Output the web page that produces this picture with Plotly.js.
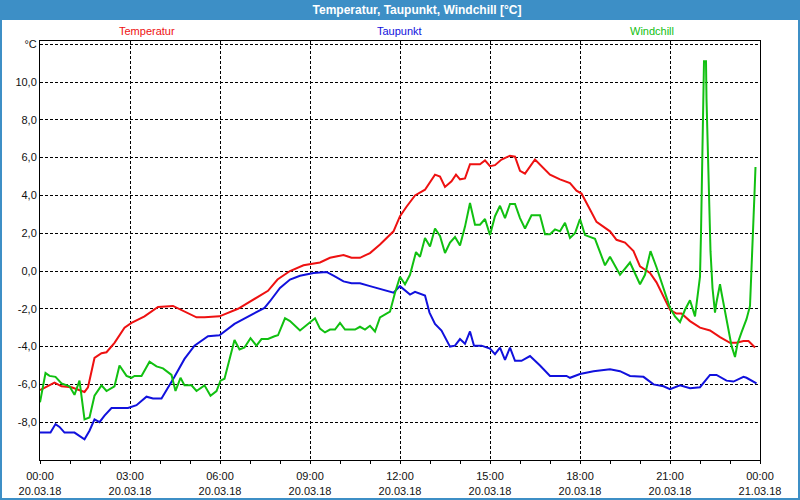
<!DOCTYPE html>
<html>
<head>
<meta charset="utf-8">
<script src="https://cdn.plot.ly/plotly-3.0.1.min.js"></script>
<style>
  html, body { margin: 0; padding: 0; background: #ffffff; }
  #chart { width: 800px; height: 500px; }
</style>
</head>
<body>
<div id="chart"></div>
<script>
// minutes since 20.03.18 00:00 and degrees C
const tempTimes = [0, 29, 43, 63, 89, 96, 109, 123, 133, 149, 169, 183, 209, 236, 266, 289, 313, 329, 359, 396,
  429, 456, 475, 500, 527, 560, 580, 607, 623, 640, 660, 680, 707, 720, 733, 750, 770, 790, 800, 810,
  823, 832, 840, 850, 860, 880, 890, 900, 910, 923, 940, 950, 960, 970, 990, 1007, 1020, 1040, 1060, 1073,
  1083, 1100, 1113, 1140, 1153, 1170, 1187, 1200, 1220, 1233, 1247, 1260, 1273, 1283, 1300, 1320, 1340, 1360, 1380, 1393,
  1407, 1417, 1430];
const tempValues = [-6.3, -5.9, -6.1, -6.15, -6.4, -6.15, -4.6, -4.35, -4.3, -3.8, -3.0, -2.75, -2.4, -1.9, -1.85, -2.15, -2.45, -2.45, -2.4, -2.0,
  -1.5, -1.05, -0.45, 0.0, 0.3, 0.45, 0.7, 0.85, 0.7, 0.7, 0.95, 1.4, 2.1, 2.9, 3.4, 4.0, 4.3, 5.1, 5.0, 4.45,
  4.75, 5.1, 4.85, 4.9, 5.65, 5.65, 5.85, 5.55, 5.6, 5.9, 6.1, 6.05, 5.3, 5.15, 5.9, 5.45, 5.1, 4.85, 4.65, 4.25,
  4.1, 3.25, 2.6, 2.1, 1.65, 1.5, 1.05, 0.25, -0.1, -0.6, -1.35, -2.05, -2.25, -2.25, -2.65, -3.0, -3.15, -3.5, -3.8, -3.8,
  -3.7, -3.7, -4.05];

const dewTimes = [0, 21, 31, 39, 49, 69, 89, 99, 109, 119, 129, 143, 176, 193, 213, 226, 243, 256, 269, 289,
  309, 336, 359, 389, 423, 449, 460, 480, 500, 520, 547, 573, 587, 607, 623, 640, 660, 680, 707, 720,
  740, 750, 770, 779, 790, 803, 820, 830, 840, 850, 860, 868, 883, 900, 910, 920, 930, 940, 950, 963,
  980, 1000, 1020, 1053, 1060, 1080, 1107, 1140, 1160, 1180, 1207, 1227, 1247, 1260, 1280, 1300, 1320, 1340, 1353, 1373,
  1387, 1407, 1413, 1433];
const dewValues = [-8.55, -8.55, -8.1, -8.25, -8.55, -8.55, -8.9, -8.45, -7.85, -8.0, -7.65, -7.25, -7.25, -7.1, -6.65, -6.75, -6.75, -6.2, -5.6, -4.65,
  -3.95, -3.45, -3.4, -2.8, -2.3, -1.95, -1.6, -0.9, -0.45, -0.25, -0.1, -0.05, -0.25, -0.55, -0.65, -0.65, -0.8, -0.95, -1.15, -0.8,
  -1.25, -1.1, -1.3, -2.2, -2.8, -3.15, -4.0, -3.95, -3.6, -3.85, -3.2, -3.95, -3.95, -4.1, -4.4, -4.05, -4.7, -4.05, -4.75, -4.75,
  -4.5, -5.0, -5.55, -5.55, -5.65, -5.45, -5.3, -5.2, -5.3, -5.55, -5.6, -6.0, -6.1, -6.25, -6.05, -6.2, -6.15, -5.5, -5.5, -5.8,
  -5.85, -5.6, -5.65, -5.95];

const chillTimes = [0, 11, 19, 31, 43, 59, 69, 79, 89, 99, 109, 123, 133, 149, 159, 173, 183, 189, 203, 219,
  233, 246, 263, 271, 281, 289, 303, 313, 329, 341, 353, 361, 369, 379, 389, 399, 409, 421, 433, 443,
  456, 469, 476, 490, 500, 520, 533, 550, 560, 570, 580, 590, 600, 610, 630, 640, 650, 660, 670, 680,
  693, 700, 710, 720, 730, 740, 752, 760, 770, 780, 790, 800, 810, 820, 830, 840, 850, 860, 870, 880,
  890, 900, 910, 920, 930, 940, 950, 960, 970, 983, 1000, 1010, 1020, 1030, 1040, 1050, 1060, 1070, 1080, 1090,
  1110, 1120, 1130, 1140, 1160, 1180, 1200, 1210, 1221, 1233, 1247, 1260, 1270, 1280, 1290, 1300, 1310, 1317, 1320, 1322,
  1324, 1325, 1328, 1332, 1333, 1335, 1338, 1340, 1341, 1345, 1350, 1353, 1360, 1363, 1370, 1377, 1383, 1390, 1395, 1403,
  1413, 1420, 1423, 1425, 1427, 1429, 1431];
const chillValues = [-6.95, -5.4, -5.55, -5.6, -5.95, -6.1, -6.55, -5.8, -7.85, -7.75, -6.6, -6.05, -6.35, -6.1, -5.0, -5.55, -5.65, -5.55, -5.55, -4.8,
  -5.05, -5.15, -5.5, -6.35, -5.65, -6.05, -6.05, -6.35, -6.05, -6.6, -6.35, -5.8, -5.7, -4.65, -3.65, -4.15, -4.05, -3.55, -3.95, -3.6,
  -3.6, -3.45, -3.4, -2.5, -2.65, -3.15, -2.85, -2.5, -3.05, -3.25, -3.1, -3.1, -2.75, -3.1, -3.1, -2.95, -3.1, -2.9, -3.2, -2.45,
  -2.25, -2.15, -1.15, -0.3, -0.7, -0.2, 1.0, 0.75, 1.75, 1.3, 2.25, 1.85, 0.95, 1.5, 1.8, 1.35, 2.35, 3.6, 2.45, 2.45,
  2.75, 1.9, 2.9, 3.45, 2.8, 3.55, 3.55, 2.8, 2.25, 2.95, 2.95, 1.95, 1.95, 2.2, 2.1, 2.55, 1.75, 2.0, 2.75, 1.9,
  1.7, 0.95, 0.3, 0.75, -0.2, 0.45, -0.7, -0.2, 1.05, 0.2, -0.9, -1.95, -2.4, -2.7, -2.05, -1.55, -2.4, -1.1, -0.3, 2.0,
  4.3, 6.6, 11.1, 11.1, 9.1, 7.1, 5.1, 3.05, 1.05, -0.9, -2.2, -1.65, -0.7, -1.15, -2.2, -3.25, -3.95, -4.55, -3.85, -3.25,
  -2.55, -1.85, -0.1, 1.15, 2.6, 4.1, 5.5];

const seriesNames = ['Temperatur', 'Taupunkt', 'Windchill'];
const seriesColors = ['#ee1111', '#1111dd', '#11c011'];

const tickMinutes = [0, 180, 360, 540, 720, 900, 1080, 1260, 1440];
const tickTimes = ['00:00', '03:00', '06:00', '09:00', '12:00', '15:00', '18:00', '21:00', '00:00'];
const tickDates = ['20.03.18', '20.03.18', '20.03.18', '20.03.18', '20.03.18', '20.03.18', '20.03.18', '20.03.18', '21.03.18'];

const yTicks = [-8, -6, -4, -2, 0, 2, 4, 6, 8, 10, 12];
const yTickText = ['-8,0', '-6,0', '-4,0', '-2,0', '0,0', '2,0', '4,0', '6,0', '8,0', '10,0', '°C'];

const W = 800, H = 500;
const margin = {l: 40, r: 40, t: 41, b: 40, pad: 0};
const barBlue = '#3d8fc6';
const font = 'Liberation Sans, Arial, sans-serif';

// pixel position -> paper coordinate
function px2x(px) { return (px - margin.l) / (W - margin.l - margin.r); }
function px2y(py) { return (H - margin.b - py) / (H - margin.t - margin.b); }

const traces = [
  [tempTimes, tempValues],
  [dewTimes, dewValues],
  [chillTimes, chillValues]
].map(function(s, i) {
  return {
    x: s[0],
    y: s[1],
    name: seriesNames[i],
    type: 'scatter',
    mode: 'lines',
    line: {color: seriesColors[i], width: 2},
    hoverinfo: 'skip'
  };
});

const labelCenters = [147, 399, 652];
const annotations = seriesNames.map(function(n, i) {
  return {
    text: n,
    xref: 'paper', yref: 'paper',
    x: px2x(labelCenters[i]), y: px2y(31),
    xanchor: 'center', yanchor: 'middle',
    showarrow: false,
    font: {family: font, size: 11, color: seriesColors[i]}
  };
});

const layout = {
  width: W,
  height: H,
  margin: margin,
  paper_bgcolor: '#ffffff',
  plot_bgcolor: '#ffffff',
  showlegend: false,
  title: {
    text: '<b>Temperatur, Taupunkt, Windchill [°C]</b>',
    font: {family: font, size: 12, color: '#ffffff'},
    xref: 'container', yref: 'container',
    x: 417 / W, y: 1 - 10 / H,
    xanchor: 'center', yanchor: 'middle'
  },
  xaxis: {
    range: [0, 1440],
    tickmode: 'array',
    tickvals: tickMinutes,
    ticktext: tickTimes.map((t, i) => t + '<br>' + tickDates[i]),
    ticks: 'outside',
    ticklen: 3,
    tickcolor: '#000',
    ticklabelstandoff: 3,
    tickfont: {family: font, size: 11, color: '#111'},
    showgrid: true,
    gridcolor: '#000',
    gridwidth: 1,
    griddash: '3px,2px',
    showline: true,
    linecolor: '#000',
    linewidth: 1,
    mirror: true,
    zeroline: false,
    minor: {tickmode: 'linear', tick0: 0, dtick: 60, ticks: 'outside', ticklen: 3, tickcolor: '#000', showgrid: false}
  },
  yaxis: {
    range: [-10, 12.17],
    tickmode: 'array',
    tickvals: yTicks,
    ticktext: yTickText,
    ticks: '',
    tickfont: {family: font, size: 11, color: '#111'},
    showgrid: true,
    gridcolor: '#000',
    gridwidth: 1,
    griddash: '3px,2px',
    showline: true,
    linecolor: '#000',
    linewidth: 1,
    mirror: true,
    zeroline: false
  },
  shapes: [
    // window title bar
    {type: 'rect', xref: 'paper', yref: 'paper', layer: 'below',
     x0: px2x(0), x1: px2x(W), y0: px2y(20), y1: px2y(0),
     fillcolor: barBlue, line: {width: 0}},
    // window border
    {type: 'rect', xref: 'paper', yref: 'paper', layer: 'above',
     x0: px2x(1), x1: px2x(W - 1), y0: px2y(H - 1), y1: px2y(1),
     fillcolor: 'rgba(0,0,0,0)', line: {color: barBlue, width: 2}}
  ],
  annotations: annotations
};

Plotly.newPlot('chart', traces, layout, {staticPlot: true, displayModeBar: false});
</script>
</body>
</html>
